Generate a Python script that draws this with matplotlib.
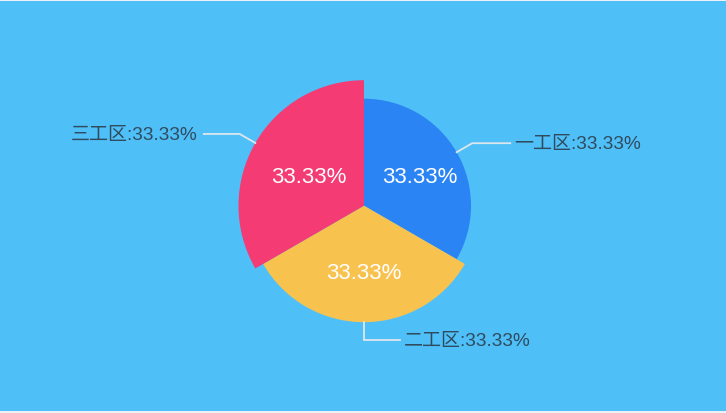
import matplotlib
matplotlib.use("Agg")
import matplotlib.pyplot as plt
from matplotlib.patches import Wedge, Rectangle
import math

plt.rcParams['font.family'] = ['Noto Sans CJK SC', 'DejaVu Sans']

# data
categories = ['一工区', '二工区', '三工区']
values = [1, 1, 1]

# style
colors = ['#2B84F4', '#F8C24F', '#F43B73']
radii = [107, 116.5, 125.5]
bg = '#4FBFF8'
text_color = '#2F4B5E'
line_color = '#DDE6EC'

W, H = 726, 414
fig = plt.figure(figsize=(W / 100, H / 100), dpi=100)
fig.patch.set_facecolor(bg)
ax = fig.add_axes([0, 0, 1, 1])
ax.set_xlim(0, W)
ax.set_ylim(0, H)
ax.set_aspect('equal')
ax.axis('off')

# light borders on top and bottom
ax.add_patch(Rectangle((0, H - 2), W, 2, color='#EEF1F4', lw=0))
ax.add_patch(Rectangle((0, 0), W, 2.5, color='#EEF1F4', lw=0))

cx, cy = 364, H - 206.7
total = sum(values)
start = 90.0
for i, (cat, v) in enumerate(zip(categories, values)):
    span = 360.0 * v / total
    t1 = start - span
    t2 = start
    start = t1
    r = radii[i]
    ax.add_patch(Wedge((cx, cy), r, t1, t2, facecolor=colors[i], edgecolor='none'))
    mid = math.radians((t1 + t2) / 2)
    pct = f'{100 * v / total:.2f}%'
    # inner label
    rl = 64
    ax.text(cx + rl * math.cos(mid), cy + rl * math.sin(mid) - 3, pct,
            color='white', fontsize=16, ha='center', va='center',
            family=['Liberation Sans', 'DejaVu Sans'])
    # outer label with leader line
    px, py = cx + r * math.cos(mid), cy + r * math.sin(mid)
    cosm, sinm = math.cos(mid), math.sin(mid)
    seg1 = 18
    qx, qy = px + seg1 * cosm, py + seg1 * sinm
    if abs(cosm) < 0.05:
        hx = qx + 36
        ha = 'left'
        tx = hx + 4
    elif cosm > 0:
        hx = qx + 38
        ha = 'left'
        tx = hx + 4
    else:
        hx = qx - 36
        ha = 'right'
        tx = hx - 6
    ax.plot([px, qx, hx], [py, qy, qy], color=line_color, lw=1.3,
            solid_joinstyle='miter')
    ax.text(tx, qy - 0.5, f'{cat}:{pct}', color=text_color, fontsize=13.7,
            ha=ha, va='center',
            family=['Liberation Sans', 'Noto Sans CJK SC', 'DejaVu Sans'])

fig.savefig('out.png', dpi=100, facecolor=bg)
